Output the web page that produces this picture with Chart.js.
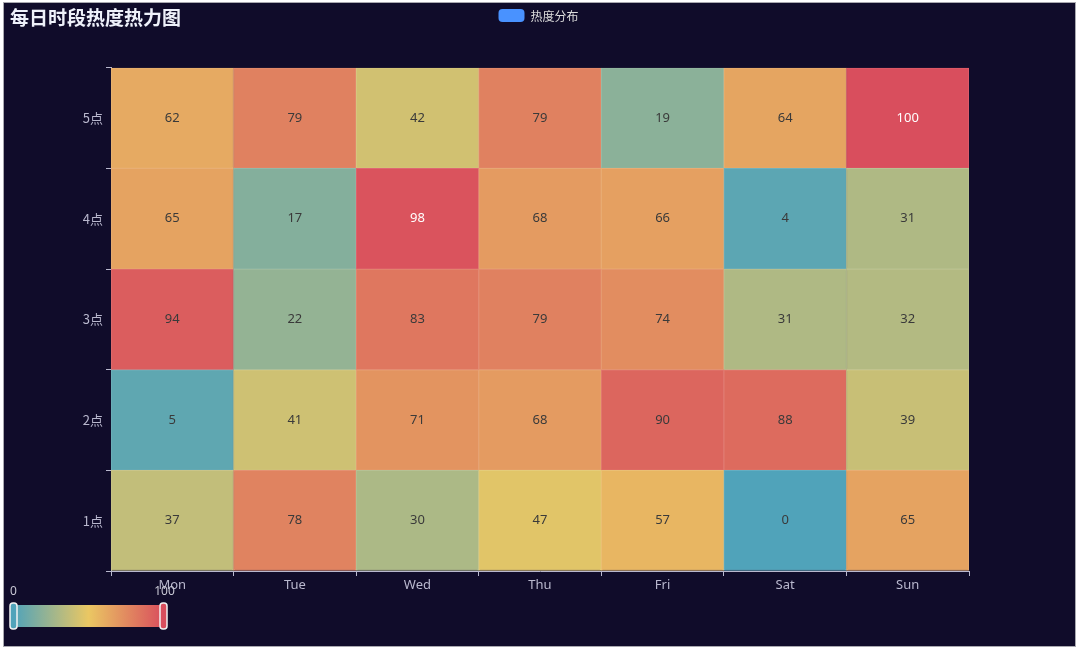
<!DOCTYPE html>
<html>
<head>
<meta charset="utf-8">
<script src="https://cdn.jsdelivr.net/npm/chart.js@4.4.0/dist/chart.umd.min.js"></script>
<style>
  html, body { margin: 0; padding: 0; background: #ffffff; }
  #wrap {
    position: absolute; left: 3px; top: 2px;
    width: 1071px; height: 643px;
    border: 1px solid #a9a9b0;
    background: #100c2a;
  }
</style>
</head>
<body>
<div id="wrap"><canvas id="heat"></canvas></div>
<script>
// categories
var days = ['Mon', 'Tue', 'Wed', 'Thu', 'Fri', 'Sat', 'Sun'];
var hours = ['1点', '2点', '3点', '4点', '5点'];

// heat values, one array per hour (bottom row first)
var heat1 = [37, 78, 30, 47, 57, 0, 65];
var heat2 = [5, 41, 71, 68, 90, 88, 39];
var heat3 = [94, 22, 83, 79, 74, 31, 32];
var heat4 = [65, 17, 98, 68, 66, 4, 31];
var heat5 = [62, 79, 42, 79, 19, 64, 100];
var heatRows = [heat1, heat2, heat3, heat4, heat5];

// visual map range
var mapMin = 0;
var mapMax = 100;
var mapColors = ['#50a3ba', '#eac763', '#d94e5d'];

var axisColor = '#B9B8CE';

function hexToRgb(h) {
  return [parseInt(h.substr(1, 2), 16), parseInt(h.substr(3, 2), 16), parseInt(h.substr(5, 2), 16)];
}

// map a value onto the visual map colour ramp
function heatColor(v, lift) {
  var t = (v - mapMin) / (mapMax - mapMin);
  t = Math.max(0, Math.min(1, t));
  var seg = t * (mapColors.length - 1);
  var i = Math.min(Math.floor(seg), mapColors.length - 2);
  var f = seg - i;
  var a = hexToRgb(mapColors[i]), b = hexToRgb(mapColors[i + 1]);
  var c = a.map(function (x, k) {
    var y = x + (b[k] - x) * f;
    if (lift) y = y + (255 - y) * lift;
    return Math.round(y);
  });
  return 'rgb(' + c.join(',') + ')';
}

var datasets = heatRows.map(function (row, r) {
  return {
    label: hours[r],
    data: row.map(function () { return [r, r + 1]; }),
    backgroundColor: row.map(function (v) { return heatColor(v); }),
    borderColor: row.map(function (v) { return heatColor(v, 0.12); }),
    borderWidth: 1,
    borderSkipped: false,
    grouped: false,
    barPercentage: 1,
    categoryPercentage: 1
  };
});

// numbers inside each cell
var cellLabels = {
  id: 'cellLabels',
  afterDatasetsDraw: function (chart) {
    var ctx = chart.ctx;
    ctx.save();
    ctx.font = '13px "Noto Sans", "Noto Sans CJK SC", sans-serif';
    ctx.textAlign = 'center';
    ctx.textBaseline = 'middle';
    chart.data.datasets.forEach(function (ds, r) {
      chart.getDatasetMeta(r).data.forEach(function (bar, i) {
        var v = heatRows[r][i];
        ctx.fillStyle = v >= 95 ? '#ffffff' : '#3a3a3a';
        ctx.fillText(String(v), bar.x, (bar.y + bar.base) / 2);
      });
    });
    ctx.restore();
  }
};

function roundRect(ctx, x, y, w, h, r) {
  ctx.beginPath();
  ctx.moveTo(x + r, y);
  ctx.lineTo(x + w - r, y);
  ctx.quadraticCurveTo(x + w, y, x + w, y + r);
  ctx.lineTo(x + w, y + h - r);
  ctx.quadraticCurveTo(x + w, y + h, x + w - r, y + h);
  ctx.lineTo(x + r, y + h);
  ctx.quadraticCurveTo(x, y + h, x, y + h - r);
  ctx.lineTo(x, y + r);
  ctx.quadraticCurveTo(x, y, x + r, y);
  ctx.closePath();
}

// series legend chip and the continuous visual map
var extras = {
  id: 'extras',
  afterDraw: function (chart) {
    var ctx = chart.ctx;
    ctx.save();
    // legend
    var cx = chart.width / 2;
    roundRect(ctx, cx - 41, 6, 26, 13, 4);
    ctx.fillStyle = '#4992ff';
    ctx.fill();
    ctx.font = '12px "Noto Sans CJK SC", sans-serif';
    ctx.fillStyle = '#dcdcdc';
    ctx.textAlign = 'left';
    ctx.textBaseline = 'middle';
    ctx.fillText('热度分布', cx - 9, 13);

    // visual map
    var x0 = 9.5, x1 = 159.5, y0 = 602, h = 22;
    var g = ctx.createLinearGradient(x0, 0, x1, 0);
    mapColors.forEach(function (c, i) { g.addColorStop(i / (mapColors.length - 1), c); });
    ctx.fillStyle = g;
    ctx.fillRect(x0, y0, x1 - x0, h);
    [[x0, mapColors[0]], [x1, mapColors[mapColors.length - 1]]].forEach(function (hd) {
      roundRect(ctx, hd[0] - 3.5, y0 - 2, 7, h + 4, 3);
      ctx.fillStyle = hd[1];
      ctx.fill();
      ctx.lineWidth = 1.5;
      ctx.strokeStyle = '#f2f2f2';
      ctx.stroke();
    });
    ctx.font = '12px "Noto Sans", sans-serif';
    ctx.fillStyle = '#c8c8d4';
    ctx.textAlign = 'center';
    ctx.fillText(String(mapMin), x0, 589);
    ctx.fillText(String(mapMax), x1 + 1, 589);
    ctx.restore();
  }
};

Chart.defaults.font.family = '"Noto Sans", "Noto Sans CJK SC", sans-serif';

new Chart(document.getElementById('heat'), {
  type: 'bar',
  data: { labels: days, datasets: datasets },
  plugins: [cellLabels, extras],
  options: {
    responsive: true,
    maintainAspectRatio: false,
    animation: false,
    layout: { padding: { left: 6, right: 106, top: 0, bottom: 0 } },
    plugins: {
      legend: { display: false },
      tooltip: { enabled: false },
      title: {
        display: true,
        text: '每日时段热度热力图',
        align: 'start',
        color: '#EEF1FA',
        font: { size: 19, weight: 'bold', family: '"Noto Sans CJK SC", sans-serif' },
        padding: { top: 3, bottom: 39 }
      }
    },
    scales: {
      x: {
        type: 'category',
        offset: true,
        afterFit: function (scale) { scale.height = 75; },
        grid: { offset: true, drawOnChartArea: false, tickLength: 5, tickColor: axisColor },
        border: { display: true, color: axisColor },
        ticks: { color: axisColor, font: { size: 13 }, padding: 1 }
      },
      y: {
        type: 'linear',
        min: 0,
        max: 5,
        afterFit: function (scale) { scale.width = 101; },
        grid: {
          drawOnChartArea: false,
          tickLength: 5,
          tickColor: function (c) { return Number.isInteger(c.tick.value) ? axisColor : 'rgba(0,0,0,0)'; }
        },
        border: { display: true, color: axisColor },
        ticks: {
          stepSize: 0.5,
          autoSkip: false,
          color: axisColor,
          font: { size: 13, family: '"Noto Sans CJK SC", sans-serif' },
          padding: 3,
          callback: function (value) {
            var k = value - 0.5;
            return Number.isInteger(k) ? hours[k] : '';
          }
        }
      }
    }
  }
});
</script>
</body>
</html>
